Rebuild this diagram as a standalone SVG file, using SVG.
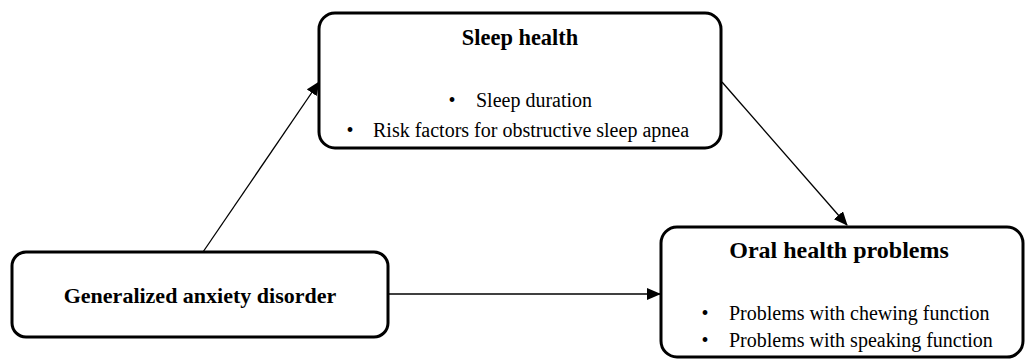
<svg xmlns="http://www.w3.org/2000/svg" width="1026" height="359" viewBox="0 0 1026 359">
<style>
.box{fill:#fff;stroke:#000;stroke-width:3}
.t{font-family:"Liberation Serif","Times New Roman",serif;fill:#000}
.b{font-weight:bold;font-size:22px}
.r{font-size:20px}
.c{stroke:#000;stroke-width:1.3;fill:none}
</style>
<defs>
<marker id="ah" markerWidth="14" markerHeight="12" refX="13" refY="6" orient="auto" markerUnits="userSpaceOnUse">
<path d="M0,0 L14,6 L0,12 Z" fill="#000"/>
</marker>
</defs>
<rect width="1026" height="359" fill="#fff"/>
<g id="connectors">
<line class="c" x1="203" y1="252" x2="319" y2="82" marker-end="url(#ah)"/>
<line class="c" x1="722" y1="82" x2="847" y2="225" marker-end="url(#ah)"/>
<line class="c" x1="388" y1="294" x2="660" y2="294" marker-end="url(#ah)"/>
</g>
<g id="sleep">
<rect class="box" x="319" y="13" width="402" height="135" rx="16"/>
<text class="t b" x="520" y="45" text-anchor="middle" style="font-size:22.4px">Sleep health</text>
<text class="t r" x="452" y="107" text-anchor="middle">•</text>
<text class="t r" x="476" y="107">Sleep duration</text>
<text class="t r" x="350" y="137" text-anchor="middle">•</text>
<text class="t r" x="373" y="137">Risk factors for obstructive sleep apnea</text>
</g>
<g id="gad">
<rect class="box" x="12" y="252" width="376" height="85" rx="14"/>
<text class="t b" x="200" y="303" text-anchor="middle">Generalized anxiety disorder</text>
</g>
<g id="oral">
<rect class="box" x="661" y="227" width="362" height="130" rx="16"/>
<text class="t b" x="839" y="258" text-anchor="middle" style="font-size:24px">Oral health problems</text>
<text class="t r" x="705" y="320" text-anchor="middle">•</text>
<text class="t r" x="729" y="320">Problems with chewing function</text>
<text class="t r" x="705" y="347" text-anchor="middle">•</text>
<text class="t r" x="729" y="347">Problems with speaking function</text>
</g>
</svg>
